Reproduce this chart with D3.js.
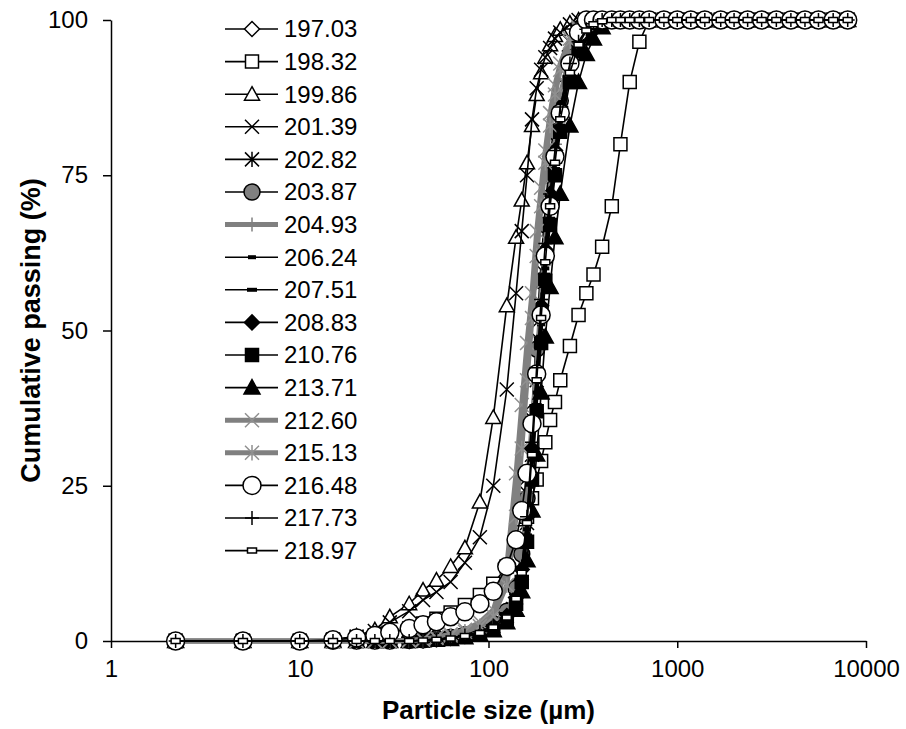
<!DOCTYPE html>
<html>
<head>
<meta charset="utf-8">
<script src="https://cdn.jsdelivr.net/npm/d3@7"></script>
<style>
  body { margin: 0; background: #fff; }
  text { font-family: "Liberation Sans", Arial, sans-serif; }
</style>
</head>
<body>
<script>
// particle sizes (µm) shared by every run
var sizes = [2.2, 5, 10, 15, 20, 25, 30, 38, 45, 53,
             63, 75, 90, 106, 125, 140, 150, 160, 170, 180,
             190, 200, 212, 225, 240, 270, 300, 330, 360, 400,
             450, 500, 560, 630,
             710, 850, 1000, 1180, 1400, 1700, 2000, 2360, 2800, 3350, 4000, 4750, 5600, 6700, 8000];

var names = ['197.03', '198.32', '199.86', '201.39', '202.82', '203.87', '204.93', '206.24', '207.51',
             '208.83', '210.76', '213.71', '212.60', '215.13', '216.48', '217.73', '218.97'];

var p19703 = [0,0,0,0,0,0,0,0.1,0.2,0.4, 0.7,1.1,1.8,2.9,5,9,15,25,37,50, 61,70,78,84,89,95,97.5,99,99.6,100, 100,100,100,100,
              100,100,100,100,100, 100,100,100,100,100, 100,100,100,100,100];
var p19832 = [0,0,0,0.2,0.5,0.9,1.3,2,2.8,3.6, 4.6,5.8,7.4,9.2,12,15,17.5,20,23,26, 29,32,35.6,38.5,42,47.5,52.5,56,59,63.5, 70,80,90,96.5,
              100,100,100,100,100, 100,100,100,100,100, 100,100,100,100,100];
var p19986 = [0,0,0,0.2,0.8,1.8,3.9,6,8.2,9.8, 12,15,22.4,36,54,65,71,77,83,88, 91.5,94,96,97.5,98.5,99.5,100,100,100,100, 100,100,100,100,
              100,100,100,100,100, 100,100,100,100,100, 100,100,100,100,100];
var p20139 = [0,0,0,0.2,0.7,1.6,3,4.8,6.6,7.9, 9.5,12.6,16.7,25,40.5,56,66,75,84,89, 92,94,95.5,97,98,99.3,100,100,100,100, 100,100,100,100,
              100,100,100,100,100, 100,100,100,100,100, 100,100,100,100,100];
var p20282 = [0,0,0,0,0,0,0,0,0.1,0.3, 0.5,0.9,1.5,2.4,4,7,11,19,30,42, 53,62,71,78,85,92,96,98,99,99.7, 100,100,100,100,
              100,100,100,100,100, 100,100,100,100,100, 100,100,100,100,100];
var p20387 = [0,0,0,0,0,0,0,0.1,0.2,0.4, 0.6,1,1.7,2.8,4.8,8.5,14,23,35,47, 58,67,75,82,87,94,97,98.7,99.5,100, 100,100,100,100,
              100,100,100,100,100, 100,100,100,100,100, 100,100,100,100,100];
var p20493 = [0,0,0,0,0,0,0,0.1,0.3,0.5, 0.8,1.2,1.8,2.6,4.5,8,11.5,24,35,44, 55,64,72,80,88,94,97,98.8,99.5,100, 100,100,100,100,
              100,100,100,100,100, 100,100,100,100,100, 100,100,100,100,100];
var p20624 = [0,0,0,0,0,0,0,0,0.1,0.2, 0.4,0.7,1.2,2,3.6,6.5,10.5,18,28,40, 51,60,69,77,84,92,96,98.2,99.2,99.8, 100,100,100,100,
              100,100,100,100,100, 100,100,100,100,100, 100,100,100,100,100];
var p20751 = [0,0,0,0,0,0,0,0,0.1,0.2, 0.4,0.7,1.1,1.9,3.4,6,10,17,27,38, 49,59,68,76,83,91,95.5,98,99,99.7, 100,100,100,100,
              100,100,100,100,100, 100,100,100,100,100, 100,100,100,100,100];
var p20883 = [0,0,0,0,0,0,0,0,0.1,0.3, 0.5,0.8,1.4,2.3,4,7,11.5,20,31,43, 54,63,72,79,86,93,96.5,98.5,99.4,100, 100,100,100,100,
              100,100,100,100,100, 100,100,100,100,100, 100,100,100,100,100];
var p21076 = [0,0,0,0,0,0,0,0,0.1,0.2, 0.4,0.7,1.2,2,3.5,6,9.5,16,26,37, 48,58,67,75,82,90,95,97.8,99,99.7, 100,100,100,100,
              100,100,100,100,100, 100,100,100,100,100, 100,100,100,100,100];
var p21371 = [0,0,0,0,0,0,0,0,0.1,0.2, 0.3,0.6,1,1.7,3,5,8,13,21,30, 40,49,57,65,72,83,90,94.5,97,98.8, 99.7,100,100,100,
              100,100,100,100,100, 100,100,100,100,100, 100,100,100,100,100];
var p21260 = [0,0,0,0,0,0,0,0.1,0.3,0.6, 1.1,1.8,3,5,12,27,38,48,56,66, 73,79,85,89.5,93,97,98.8,99.5,100,100, 100,100,100,100,
              100,100,100,100,100, 100,100,100,100,100, 100,100,100,100,100];
var p21513 = [0,0,0,0,0,0,0,0.1,0.2,0.5, 0.9,1.5,2.4,4,9,20,31,42,52,62, 70,77,83,88,92,96.5,98.5,99.4,100,100, 100,100,100,100,
              100,100,100,100,100, 100,100,100,100,100, 100,100,100,100,100];
var p21648 = [0,0,0,0.2,0.5,0.9,1.4,2,2.6,3.1, 3.9,4.7,6,8,12,16.3,21,27,35,43, 52.5,62,70,78,85,93,98,100,100,100, 100,100,100,100,
              100,100,100,100,100, 100,100,100,100,100, 100,100,100,100,100];
var p21773 = [0,0,0,0,0,0,0,0,0.1,0.3, 0.5,0.9,1.5,2.5,4.2,7.5,12,20,32,44, 55,64,72,79,86,93,96.5,98.5,99.4,100, 100,100,100,100,
              100,100,100,100,100, 100,100,100,100,100, 100,100,100,100,100];
var p21897 = [0,0,0,0,0,0,0,0,0.1,0.2, 0.4,0.8,1.3,2.2,3.8,6.8,11,19,30,42, 52,61,70,77,84,91.5,96,98.3,99.3,99.8, 100,100,100,100,
              100,100,100,100,100, 100,100,100,100,100, 100,100,100,100,100];

var passing = [p19703, p19832, p19986, p20139, p20282, p20387, p20493, p20624, p20751,
               p20883, p21076, p21371, p21260, p21513, p21648, p21773, p21897];

var xTicks = [1, 10, 100, 1000, 10000];
var yTicks = [0, 25, 50, 75, 100];

// look of each run, same order as names
var styles = [
  { shape: 'diamond',  size: 7.5, fill: '#fff',    stroke: '#000', line: '#000', lw: 1.6 },
  { shape: 'square',   size: 6.5, fill: '#fff',    stroke: '#000', line: '#000', lw: 1.6 },
  { shape: 'triangle', size: 7.5, fill: '#fff',    stroke: '#000', line: '#000', lw: 1.6 },
  { shape: 'x',        size: 7,   fill: 'none',    stroke: '#000', line: '#000', lw: 1.6 },
  { shape: 'star',     size: 7,   fill: 'none',    stroke: '#000', line: '#000', lw: 1.6 },
  { shape: 'circle',   size: 8,   fill: '#808080', stroke: '#000', line: '#000', lw: 1.6 },
  { shape: 'plus',     size: 7,   fill: 'none',    stroke: '#808080', line: '#808080', lw: 5 },
  { shape: 'dash',     size: 4,   fill: '#000',    stroke: '#000', line: '#000', lw: 1.6 },
  { shape: 'dash',     size: 5,   fill: '#000',    stroke: '#000', line: '#000', lw: 1.6 },
  { shape: 'diamond',  size: 7.5, fill: '#000',    stroke: '#000', line: '#000', lw: 1.6 },
  { shape: 'square',   size: 6.5, fill: '#000',    stroke: '#000', line: '#000', lw: 1.6 },
  { shape: 'triangle', size: 8,   fill: '#000',    stroke: '#000', line: '#000', lw: 1.6 },
  { shape: 'x',        size: 7,   fill: 'none',    stroke: '#909090', line: '#808080', lw: 5 },
  { shape: 'star',     size: 7,   fill: 'none',    stroke: '#909090', line: '#808080', lw: 5 },
  { shape: 'circle',   size: 9,   fill: '#fff',    stroke: '#000', line: '#000', lw: 1.6 },
  { shape: 'plus',     size: 7,   fill: 'none',    stroke: '#000', line: '#000', lw: 1.6 },
  { shape: 'rect',     size: 4.5, fill: '#fff',    stroke: '#000', line: '#000', lw: 1.6 }
];

var width = 906;
var height = 729;
var margin = { left: 111, top: 20, right: 40, bottom: 88 };

function markerPath(shape, s) {
  if (shape === 'diamond') return `M0,${-s}L${s},0L0,${s}L${-s},0Z`;
  if (shape === 'square') return `M${-s},${-s}H${s}V${s}H${-s}Z`;
  if (shape === 'triangle') return `M0,${-s}L${s},${s * 0.8}L${-s},${s * 0.8}Z`;
  if (shape === 'x') return `M${-s},${-s}L${s},${s}M${-s},${s}L${s},${-s}`;
  if (shape === 'star') return `M${-s},${-s}L${s},${s}M${-s},${s}L${s},${-s}M0,${-s * 1.1}V${s * 1.1}`;
  if (shape === 'plus') return `M${-s},0H${s}M0,${-s}V${s}`;
  if (shape === 'circle') return `M${s},0A${s},${s} 0 1,1 ${-s},0A${s},${s} 0 1,1 ${s},0Z`;
  if (shape === 'dash') return `M${-s},-2H${s}V2H${-s}Z`;
  if (shape === 'rect') return `M${-s},-2.5H${s}V2.5H${-s}Z`;
}

var svg = d3.select('body')
            .append('svg')
            .attr('width', width)
            .attr('height', height);

var xScale = d3.scaleLog()
               .domain([1, 10000])
               .range([margin.left, width - margin.right]);

var yScale = d3.scaleLinear()
               .domain([0, 100])
               .range([height - margin.bottom, margin.top]);

// axes
svg.append('g')
   .attr('transform', `translate(0,${yScale(0)})`)
   .call(d3.axisBottom(xScale).tickValues(xTicks).tickFormat(d3.format('d')).tickSize(7).tickSizeOuter(0).tickPadding(12));

svg.append('g')
   .attr('transform', `translate(${xScale(1)},0)`)
   .call(d3.axisLeft(yScale).tickValues(yTicks).tickSize(8).tickSizeOuter(0).tickPadding(15));

svg.selectAll('.domain, .tick line').attr('stroke', '#000').attr('stroke-width', 1.5);
svg.selectAll('.tick text').attr('font-size', 24).attr('fill', '#000')
   .style('font-family', '"Liberation Sans", Arial, sans-serif');

svg.append('text')
   .attr('x', (xScale(1) + xScale(10000)) / 2)
   .attr('y', 719)
   .attr('text-anchor', 'middle')
   .attr('font-size', 26)
   .attr('font-weight', 'bold')
   .text('Particle size (µm)');

svg.append('text')
   .attr('transform', `translate(40,${(yScale(0) + yScale(100)) / 2}) rotate(-90)`)
   .attr('text-anchor', 'middle')
   .attr('font-size', 27)
   .attr('font-weight', 'bold')
   .text('Cumulative passing (%)');

// series
var line = d3.line()
             .x(function (d) { return xScale(d[0]); })
             .y(function (d) { return yScale(d[1]); });

names.forEach(function (name, i) {
  var st = styles[i];
  var pts = sizes.map(function (s, j) { return [s, passing[i][j]]; });
  var g = svg.append('g').attr('class', 'series');

  g.append('path')
   .attr('d', line(pts))
   .attr('fill', 'none')
   .attr('stroke', st.line)
   .attr('stroke-width', st.lw);

  g.selectAll('path.mk')
   .data(pts)
   .enter()
   .append('path')
   .attr('class', 'mk')
   .attr('transform', function (d) { return `translate(${xScale(d[0])},${yScale(d[1])})`; })
   .attr('d', markerPath(st.shape, st.size))
   .attr('fill', st.fill)
   .attr('stroke', st.stroke)
   .attr('stroke-width', st.shape === 'dash' ? 0 : 1.5);
});

// legend
var legend = svg.append('g').attr('transform', 'translate(225,29)');

names.forEach(function (name, i) {
  var st = styles[i];
  var row = legend.append('g').attr('transform', `translate(0,${i * 32.6})`);
  row.append('line')
     .attr('x1', 0).attr('x2', 53)
     .attr('stroke', st.line)
     .attr('stroke-width', st.lw);
  row.append('path')
     .attr('transform', 'translate(27,0)')
     .attr('d', markerPath(st.shape, st.size))
     .attr('fill', st.fill)
     .attr('stroke', st.stroke)
     .attr('stroke-width', st.shape === 'dash' ? 0 : 1.5);
  row.append('text')
     .attr('x', 59)
     .attr('dy', '0.35em')
     .attr('font-size', 24)
     .text(name);
});
</script>
</body>
</html>
